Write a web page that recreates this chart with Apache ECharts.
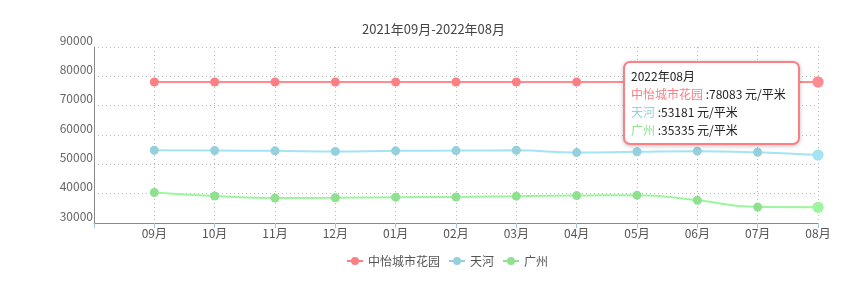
<!DOCTYPE html>
<html>
<head>
<meta charset="utf-8">
<script src="https://cdn.jsdelivr.net/npm/echarts@6/dist/echarts.min.js"></script>
<style>
  html, body { margin: 0; padding: 0; background: #fff; }
  #main { width: 867px; height: 293px; }
</style>
</head>
<body>
<div id="main"></div>
<script>
var months = ['', '09月', '10月', '11月', '12月', '01月', '02月', '03月', '04月', '05月', '06月', '07月', '08月'];
var fullMonths = ['', '2021年09月', '2021年10月', '2021年11月', '2021年12月', '2022年01月', '2022年02月', '2022年03月', '2022年04月', '2022年05月', '2022年06月', '2022年07月', '2022年08月'];
var garden = ['-', 78083, 78083, 78083, 78083, 78083, 78083, 78083, 78083, 78083, 78083, 78083, 78083];
var tianhe = ['-', 54790, 54700, 54600, 54400, 54600, 54680, 54790, 54000, 54300, 54500, 54100, 53181];
var guangzhou = ['-', 40400, 39200, 38500, 38600, 38800, 38860, 39150, 39350, 39500, 37750, 35450, 35335];
var seriesNames = ['中怡城市花园', '天河', '广州'];
var colors = ['#fb7f83', '#95d0dc', '#8fe08f'];

var chart = echarts.init(document.getElementById('main'));
var font = '"Noto Sans CJK SC", "Microsoft YaHei", sans-serif';

function makeSeries(name, data, color) {
  return {
    name: name,
    type: 'line',
    smooth: true,
    data: data,
    symbol: 'circle',
    symbolSize: 9,
    itemStyle: { color: color },
    lineStyle: { width: 2, color: color },
    emphasis: { scale: 1.25 }
  };
}

chart.setOption({
  textStyle: { fontFamily: font },
  title: {
    text: '2021年09月-2022年08月',
    left: 'center',
    top: 18,
    textStyle: { fontSize: 13, fontWeight: 'normal', color: '#444', fontFamily: font }
  },
  legend: {
    data: seriesNames,
    left: 341,
    bottom: 21,
    itemGap: 8,
    itemWidth: 16,
    itemHeight: 10,
    textStyle: { fontSize: 12, color: '#555', fontFamily: font }
  },
  tooltip: {
    trigger: 'axis',
    backgroundColor: '#fff',
    borderColor: colors[0],
    borderWidth: 2,
    borderRadius: 7,
    padding: [4, 12, 4, 6],
    axisPointer: { type: 'none' },
    textStyle: { color: '#222', fontSize: 12, fontFamily: font },
    extraCssText: 'box-shadow: 0 1px 4px rgba(0,0,0,0.25); line-height: 18px;',
    position: function (pt, params, dom, rect, size) {
      return [pt[0] - size.contentSize[0] - 18, 61];
    },
    formatter: function (params) {
      var s = fullMonths[params[0].dataIndex];
      params.forEach(function (p) {
        s += '<br/><span style="color:' + p.color + '">' + p.seriesName + '</span> :' + p.value + ' 元/平米';
      });
      return s;
    }
  },
  grid: { left: 94, right: 49, top: 47, bottom: 70 },
  xAxis: {
    type: 'category',
    boundaryGap: false,
    data: months,
    axisLine: { lineStyle: { color: '#888' } },
    axisTick: { show: true, alignWithLabel: true, lineStyle: { color: '#aac4e0' } },
    axisLabel: { color: '#555', fontSize: 12, margin: 4 },
    splitLine: { show: true, lineStyle: { type: [1, 3], color: '#bbb' } }
  },
  yAxis: {
    type: 'value',
    min: 30000,
    max: 90000,
    interval: 10000,
    axisLine: { show: true, lineStyle: { color: '#888' } },
    axisTick: { show: false },
    axisLabel: {
      color: '#666', fontSize: 12, margin: 1, verticalAlign: 'bottom', lineHeight: 14,
      formatter: function (v) { return String(v); }
    },
    splitLine: { show: true, lineStyle: { type: [1, 3], color: '#bbb' } }
  },
  series: [
    makeSeries(seriesNames[0], garden, colors[0]),
    makeSeries(seriesNames[1], tianhe, colors[1]),
    makeSeries(seriesNames[2], guangzhou, colors[2])
  ]
});

setTimeout(function () {
  chart.dispatchAction({ type: 'showTip', seriesIndex: 0, dataIndex: 12 });
}, 100);
</script>
</body>
</html>
